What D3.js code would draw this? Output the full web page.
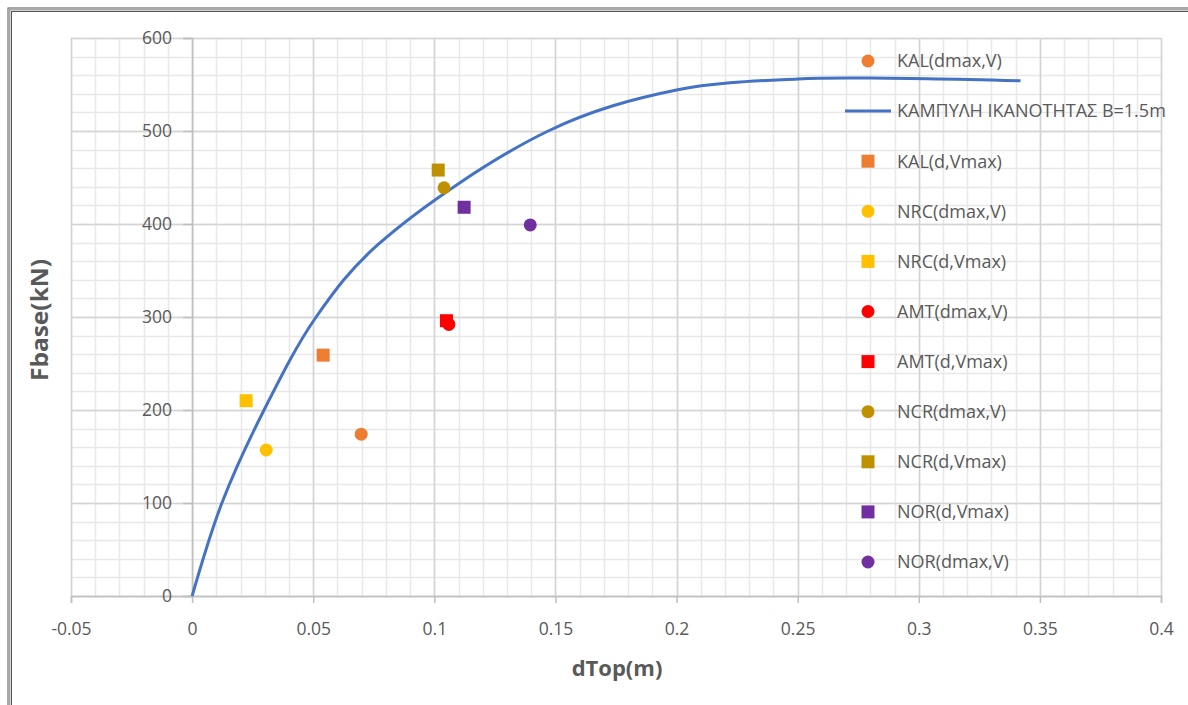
<!DOCTYPE html>
<html>
<head>
<meta charset="utf-8">
<script src="https://cdn.jsdelivr.net/npm/d3@7"></script>
<style>
  html, body { margin: 0; padding: 0; background: #fff; }
  svg { display: block; }
  text { font-family: "Open Sans", "Noto Sans", sans-serif; }
</style>
</head>
<body>
<svg id="chart" width="1188" height="705"></svg>
<script>
// Capacity curve (dTop in m, Fbase in kN)
const curveD = [0, 0.0123, 0.0297, 0.0512, 0.0768, 0.147, 0.200, 0.250, 0.280, 0.342];
const curveF = [0, 100, 200, 300, 378, 500, 544, 556, 557, 554];

// Scatter series: names, shapes, colours, positions
const seriesNames = ["KAL(dmax,V)", "KAL(d,Vmax)", "NRC(dmax,V)", "NRC(d,Vmax)", "AMT(dmax,V)", "AMT(d,Vmax)", "NCR(dmax,V)", "NCR(d,Vmax)", "NOR(d,Vmax)", "NOR(dmax,V)"];
const seriesShapes = ["circle", "square", "circle", "square", "circle", "square", "circle", "square", "square", "circle"];
const seriesColors = ["#ED7D31", "#ED7D31", "#FFC000", "#FFC000", "#FF0000", "#FF0000", "#BF9000", "#BF9000", "#7030A0", "#7030A0"];
const seriesD = [0.0698, 0.0541, 0.0306, 0.0223, 0.106, 0.105, 0.104, 0.1016, 0.1123, 0.1396];
const seriesF = [174, 259, 157, 210, 292, 296, 439, 458, 418, 399];

const curveName = "ΚΑΜΠΥΛΗ ΙΚΑΝΟΤΗΤΑΣ Β=1.5m";
const xTicks = [-0.05, 0, 0.05, 0.1, 0.15, 0.2, 0.25, 0.3, 0.35, 0.4];
const yTicks = [0, 100, 200, 300, 400, 500, 600];
const xLabel = "dTop(m)";
const yLabel = "Fbase(kN)";

const svg = d3.select("#chart");
const W = 1188, H = 705;
const plotL = 71, plotR = 1161, plotT = 38, plotB = 596;

const x = d3.scaleLinear().domain([-0.05, 0.4]).range([plotL, plotR]);
const y = d3.scaleLinear().domain([0, 600]).range([plotB, plotT]);

// outer frame (double rule on top and left)
const frame = svg.append("g");
frame.append("rect").attr("x", 8).attr("y", 8).attr("width", W).attr("height", H).attr("fill", "none").attr("stroke", "#555").attr("stroke-width", 1);
frame.append("rect").attr("x", 9.5).attr("y", 9.5).attr("width", W).attr("height", H).attr("fill", "none").attr("stroke", "#a8a8a8").attr("stroke-width", 2);
frame.append("rect").attr("x", 11.5).attr("y", 11.5).attr("width", W).attr("height", H).attr("fill", "none").attr("stroke", "#555").attr("stroke-width", 1);

// minor grid
const grid = svg.append("g");
const xMinor = d3.range(-0.05, 0.4001, 0.01).map(v => +v.toFixed(3));
const yMinor = d3.range(0, 600.1, 20);
grid.selectAll("line.xm").data(xMinor).join("line")
  .attr("x1", d => Math.round(x(d)) + 0.5).attr("x2", d => Math.round(x(d)) + 0.5)
  .attr("y1", plotT).attr("y2", plotB)
  .attr("stroke", "#e8e8e8").attr("stroke-width", 1.5);
grid.selectAll("line.ym").data(yMinor).join("line")
  .attr("y1", d => Math.round(y(d)) + 0.5).attr("y2", d => Math.round(y(d)) + 0.5)
  .attr("x1", plotL).attr("x2", plotR)
  .attr("stroke", "#e8e8e8").attr("stroke-width", 1.5);
// major grid
grid.selectAll("line.xM").data(xTicks).join("line")
  .attr("x1", d => Math.round(x(d)) + 0.5).attr("x2", d => Math.round(x(d)) + 0.5)
  .attr("y1", plotT).attr("y2", plotB)
  .attr("stroke", "#d4d4d4").attr("stroke-width", 1.5);
grid.selectAll("line.yM").data(yTicks).join("line")
  .attr("y1", d => Math.round(y(d)) + 0.5).attr("y2", d => Math.round(y(d)) + 0.5)
  .attr("x1", plotL).attr("x2", plotR)
  .attr("stroke", "#d4d4d4").attr("stroke-width", 1.5);

// x axis along Fbase = 0 (plain hyphen for negatives)
const xAxis = svg.append("g").attr("transform", `translate(0,${y(0)})`)
  .call(d3.axisBottom(x).tickValues(xTicks).tickSize(7).tickPadding(20).tickFormat(d => String(+d.toFixed(2))));
// y axis along dTop = 0
const yAxis = svg.append("g").attr("transform", `translate(${x(0)},0)`)
  .call(d3.axisLeft(y).tickValues(yTicks).tickSize(9).tickPadding(11).tickFormat(d => String(d)));

[xAxis, yAxis].forEach(a => {
  a.select(".domain").attr("stroke", "#bfbfbf").attr("stroke-width", 1.5);
  a.selectAll(".tick line").attr("stroke", "#bfbfbf").attr("stroke-width", 1.5);
  a.selectAll(".tick text").attr("fill", "#595959").style("font-size", "17.5px").style("font-family", "'Open Sans', sans-serif");
});
yAxis.selectAll(".tick text").attr("dy", "0.32em");

// capacity curve (smoothed through the sample points)
const pts = curveD.map((d, i) => [d, curveF[i]]);
svg.append("path").datum(pts)
  .attr("fill", "none").attr("stroke", "#4472C4").attr("stroke-width", 3)
  .attr("d", d3.line().x(d => x(d[0])).y(d => y(d[1])).curve(d3.curveCatmullRom.alpha(0.5)));

// scatter markers
function marker(g, shape, color, cx, cy) {
  if (shape === "circle") {
    g.append("circle").attr("cx", cx).attr("cy", cy).attr("r", 6.5).attr("fill", color);
  } else {
    g.append("rect").attr("x", cx - 6.5).attr("y", cy - 6.5).attr("width", 13).attr("height", 13).attr("fill", color);
  }
}
const marks = svg.append("g");
seriesNames.forEach((n, i) => marker(marks, seriesShapes[i], seriesColors[i], x(seriesD[i]), y(seriesF[i])));

// legend
const legend = svg.append("g");
const legendItems = [
  { name: seriesNames[0], type: seriesShapes[0], color: seriesColors[0] },
  { name: curveName, type: "line", color: "#4472C4" },
  ...seriesNames.slice(1).map((n, i) => ({ name: n, type: seriesShapes[i + 1], color: seriesColors[i + 1] }))
];
const legX = 868, legY0 = 61, legStep = 50.1;
legendItems.forEach((it, i) => {
  const ly = legY0 + i * legStep;
  if (it.type === "line") {
    legend.append("line").attr("x1", 845).attr("x2", 891).attr("y1", ly).attr("y2", ly)
      .attr("stroke", it.color).attr("stroke-width", 3);
  } else {
    marker(legend, it.type, it.color, legX, ly);
  }
  legend.append("text").attr("x", 897).attr("y", ly).attr("dy", "0.35em")
    .attr("fill", "#595959").style("font-size", "18px").text(it.name);
});

// axis titles
svg.append("text").attr("x", (plotL + plotR) / 2 + 1).attr("y", 668).attr("dy", "0.35em")
  .attr("text-anchor", "middle").attr("fill", "#595959")
  .style("font-size", "22px").style("font-weight", "bold").text(xLabel);
svg.append("text").attr("transform", `translate(40,320) rotate(-90)`)
  .attr("dy", "0.35em").attr("text-anchor", "middle").attr("fill", "#595959")
  .attr("textLength", 122).attr("lengthAdjust", "spacingAndGlyphs")
  .style("font-size", "23px").style("font-weight", "bold").text(yLabel);
</script>
</body>
</html>
